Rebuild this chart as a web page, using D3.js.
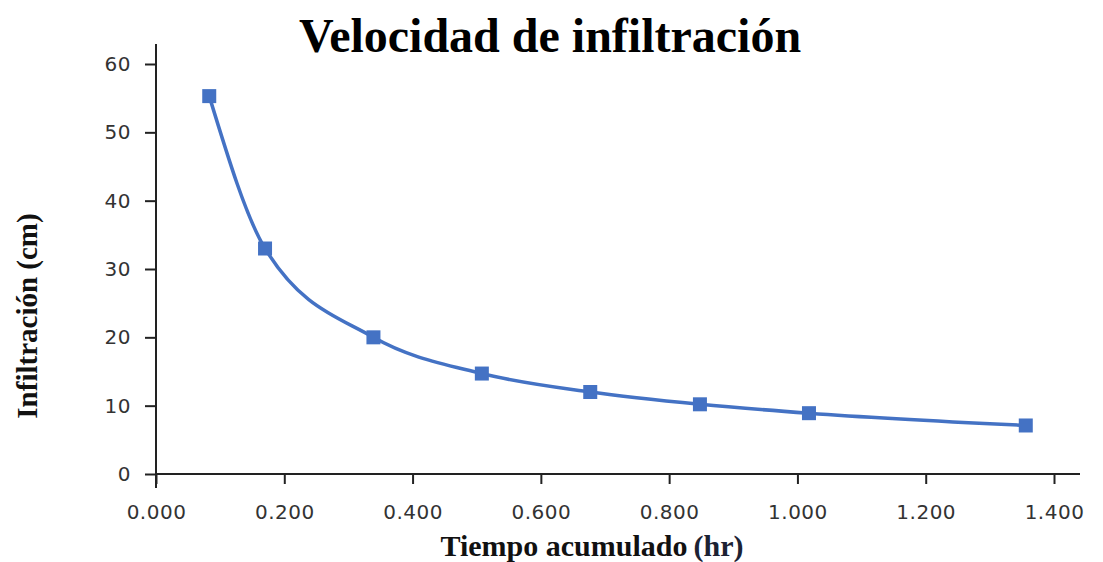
<!DOCTYPE html>
<html>
<head>
<meta charset="utf-8">
<script src="https://cdn.jsdelivr.net/npm/d3@7"></script>
<style>
  body { margin: 0; background: #fff; }
  svg { display: block; }
</style>
</head>
<body>
<div id="grafico"></div>
<script>
// datos
var tiempo = [0.083, 0.170, 0.339, 0.508, 0.677, 0.848, 1.018, 1.356];
var infiltracion = [55.3, 33.0, 20.0, 14.7, 12.0, 10.2, 8.9, 7.1];
var ticksX = [0, 0.2, 0.4, 0.6, 0.8, 1.0, 1.2, 1.4];
var ticksY = [0, 10, 20, 30, 40, 50, 60];

var width = 1103;
var height = 562;
var azul = "#4472C4";
var ejeColor = "#222";

var svg = d3.select("#grafico").append("svg")
    .attr("width", width)
    .attr("height", height);

var x = d3.scaleLinear().domain([0, 1.4]).range([156, 1054]);
var y = d3.scaleLinear().domain([0, 60]).range([474, 64]);

// eje x
var ejeX = svg.append("g")
    .attr("transform", "translate(0," + y(0) + ")")
    .call(d3.axisBottom(x).tickValues(ticksX).tickFormat(d3.format(".3f")).tickSize(10).tickPadding(21));
ejeX.select(".domain").remove();
ejeX.selectAll("line").attr("stroke", ejeColor).attr("stroke-width", 2);
ejeX.selectAll("text")
    .attr("font-family", "DejaVu Sans, sans-serif")
    .attr("font-size", "20px")
    .attr("letter-spacing", "0.5px")
    .attr("fill", "#333");

// eje y
var ejeY = svg.append("g")
    .attr("transform", "translate(" + x(0) + ",0)")
    .call(d3.axisLeft(y).tickValues(ticksY).tickSize(11).tickPadding(14));
ejeY.select(".domain").remove();
ejeY.selectAll("line").attr("stroke", ejeColor).attr("stroke-width", 2);
ejeY.selectAll("text")
    .attr("font-family", "DejaVu Sans, sans-serif")
    .attr("font-size", "20px")
    .attr("letter-spacing", "0.5px")
    .attr("fill", "#333");

// lineas de los ejes (se cruzan en el origen)
svg.append("line")
    .attr("x1", x(0)).attr("x2", x(1.4) + 26)
    .attr("y1", y(0)).attr("y2", y(0))
    .attr("stroke", ejeColor).attr("stroke-width", 2);
svg.append("line")
    .attr("x1", x(0)).attr("x2", x(0))
    .attr("y1", y(0) + 14).attr("y2", y(60) - 20)
    .attr("stroke", ejeColor).attr("stroke-width", 2);

// curva suavizada
var puntos = tiempo.map(function(t, i){ return {t: t, v: infiltracion[i]}; });

var linea = d3.line()
    .x(function(d){ return x(d.t); })
    .y(function(d){ return y(d.v); })
    .curve(d3.curveMonotoneX);

svg.append("path")
    .datum(puntos)
    .attr("d", linea)
    .attr("fill", "none")
    .attr("stroke", azul)
    .attr("stroke-width", 3.5);

var lado = 14;
svg.selectAll("rect.marca")
    .data(puntos)
    .enter()
    .append("rect")
    .attr("class", "marca")
    .attr("x", function(d){ return x(d.t) - lado / 2; })
    .attr("y", function(d){ return y(d.v) - lado / 2; })
    .attr("width", lado)
    .attr("height", lado)
    .attr("fill", azul);

// titulos
svg.append("text")
    .attr("x", 550)
    .attr("y", 52)
    .attr("text-anchor", "middle")
    .attr("font-family", "Liberation Serif, Times New Roman, serif")
    .attr("font-weight", "bold")
    .attr("font-size", "48px")
    .attr("fill", "#000")
    .text("Velocidad de infiltración");

var tituloX = svg.append("text")
    .attr("x", 592)
    .attr("y", 556)
    .attr("text-anchor", "middle")
    .attr("font-family", "Liberation Serif, Times New Roman, serif")
    .attr("font-weight", "bold")
    .attr("font-size", "30px")
    .attr("fill", "#111");
tituloX.append("tspan").text("Tiempo acumulado");
tituloX.append("tspan").attr("dx", 6).attr("fill", "#1c2233").text("(hr)");

svg.append("text")
    .attr("transform", "translate(37,316) rotate(-90)")
    .attr("text-anchor", "middle")
    .attr("font-family", "Liberation Serif, Times New Roman, serif")
    .attr("font-weight", "bold")
    .attr("font-size", "29px")
    .attr("fill", "#111")
    .text("Infiltración (cm)");
</script>
</body>
</html>
